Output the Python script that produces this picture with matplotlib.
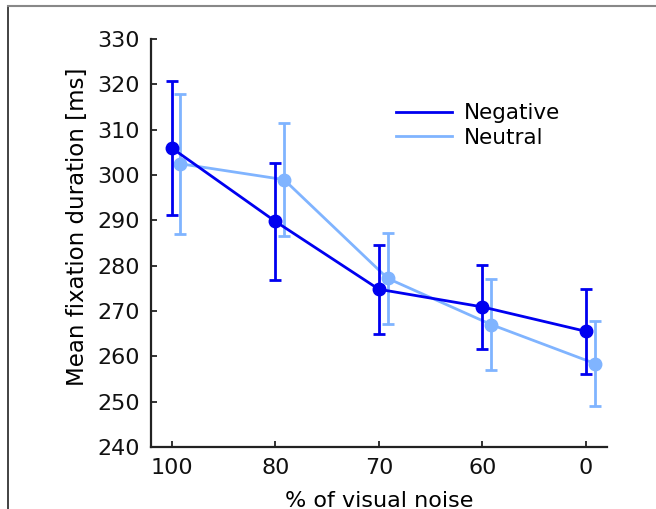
import numpy as np
import matplotlib
matplotlib.use("Agg")
import matplotlib.pyplot as plt
from matplotlib.lines import Line2D

# data
noise_levels = ["100", "80", "70", "60", "0"]

neg_mean = [306.0, 289.8, 274.8, 270.9, 265.5]
neg_err = [14.8, 12.9, 9.8, 9.3, 9.4]

neu_mean = [302.5, 299.0, 277.2, 267.0, 258.4]
neu_err = [15.5, 12.5, 10.0, 10.1, 9.3]

neg_color = "#0000f0"
neu_color = "#80b4ff"

fig = plt.figure(figsize=(6.56, 5.09), dpi=100)
ax = fig.add_axes([0.230, 0.122, 0.695, 0.801])

x = np.arange(len(noise_levels))
shift = 0.085

ax.errorbar(x, neg_mean, yerr=neg_err, color=neg_color, lw=2, marker="o",
            markersize=9, capsize=4.5, capthick=2, elinewidth=2, zorder=3)
ax.errorbar(x + shift, neu_mean, yerr=neu_err, color=neu_color, lw=2, marker="o",
            markersize=9, capsize=4.5, capthick=2, elinewidth=2, zorder=2)

ax.set_xlim(-0.2, 4.2)
ax.set_ylim(240, 330)
ax.set_xticks(x)
ax.set_xticklabels(noise_levels)
ax.set_yticks(np.arange(240, 331, 10))

for s in ["top", "right"]:
    ax.spines[s].set_visible(False)
for s in ["left", "bottom"]:
    ax.spines[s].set_linewidth(1.6)
    ax.spines[s].set_color("#222222")
ax.tick_params(direction="in", length=4, width=1.3, labelsize=16, colors="#222222",
               labelcolor="#111111")
ax.tick_params(axis="x", pad=8)
ax.tick_params(axis="y", pad=8)

ax.set_xlabel("% of visual noise", fontsize=16, labelpad=9)
ax.set_ylabel("Mean fixation duration [ms]", fontsize=16.5)
ax.yaxis.set_label_coords(-0.135, 0.54)

handles = [Line2D([], [], color=neg_color, lw=2),
           Line2D([], [], color=neu_color, lw=2)]
ax.legend(handles, ["Negative", "Neutral"], frameon=False, fontsize=15.5,
          loc="upper left", bbox_to_anchor=(0.495, 0.89), handlelength=2.6,
          handletextpad=0.55, labelspacing=0.2)

# outer frame pieces (left and top)
fig.add_artist(Line2D([8 / 656, 8 / 656], [0, 1 - 6 / 509], transform=fig.transFigure,
                      color="#222222", lw=1.2))
fig.add_artist(Line2D([8 / 656, 1], [1 - 6 / 509, 1 - 6 / 509], transform=fig.transFigure,
                      color="#888888", lw=1.5))

fig.savefig("out.png", dpi=100)
